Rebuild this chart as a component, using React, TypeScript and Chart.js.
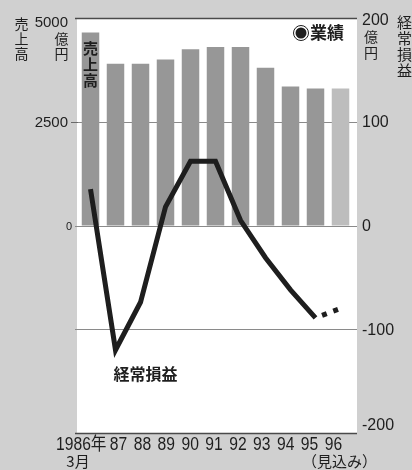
import React, { useEffect, useRef } from "react";
import { Chart, registerables } from "chart.js";

Chart.register(...registerables);

// Fiscal years (March year-end); 96 is a forecast
const years = ["1986", "87", "88", "89", "90", "91", "92", "93", "94", "95", "96"];
// 売上高 (億円)
const sales = [4650, 3900, 3900, 4000, 4250, 4300, 4300, 3800, 3350, 3300, 3300];
// 経常損益 (億円)
const profit = [35, -120, -74, 18, 62, 62, 5, -31, -62, -89, -80];
const salesTicks = [5000, 2500, 0];
const profitTicks = [200, 100, 0, -100, -200];
const firstYearSuffix = "年";
const firstYearSub = "3月";
const forecastNote = "（見込み）";

const BG = "#d0d0d0";
const BAR = "#979797";
const BAR_FORECAST = "#bdbdbd";
const INK = "#1e1e1e";
const JP = "'Noto Sans CJK JP', 'Noto Sans', sans-serif";
const NUM = "'Liberation Sans', Arial, 'Noto Sans CJK JP', sans-serif";

function verticalText(ctx: CanvasRenderingContext2D, text: string, cx: number, top: number, step: number) {
  ctx.textAlign = "center";
  ctx.textBaseline = "top";
  Array.from(text).forEach((ch, i) => ctx.fillText(ch, cx, top + i * step));
}

// tall, slightly condensed numerals for the year row
function narrowText(ctx: CanvasRenderingContext2D, text: string, x: number, y: number, align: CanvasTextAlign) {
  ctx.save();
  ctx.translate(x, y);
  ctx.scale(0.87, 1);
  ctx.textAlign = align;
  ctx.textBaseline = "middle";
  ctx.fillText(text, 0, 0);
  ctx.restore();
}

const paperPlugin = {
  id: "paper",
  beforeDraw(chart: any) {
    const { ctx, chartArea: a, width, height } = chart;
    ctx.save();
    ctx.fillStyle = BG;
    ctx.fillRect(0, 0, width, height);
    ctx.fillStyle = "#ffffff";
    ctx.fillRect(a.left - 1, a.top, a.right - a.left + 5, a.bottom - a.top);
    ctx.restore();
  },
  beforeDatasetsDraw(chart: any) {
    const { ctx, chartArea: a, scales } = chart;
    const yR = scales.yR;
    const yL = scales.yL;
    ctx.save();
    profitTicks.forEach((v) => {
      const y = Math.round(yR.getPixelForValue(v)) + 0.5;
      const edge = v === profitTicks[0] || v === profitTicks[profitTicks.length - 1];
      ctx.strokeStyle = edge ? "#4a4a4a" : "#8a8a8a";
      ctx.lineWidth = edge ? 1.5 : 1;
      ctx.beginPath();
      ctx.moveTo(a.left - 3, y);
      ctx.lineTo(a.right + 4, y);
      ctx.stroke();
    });
    // short tick on the sales axis
    const y25 = Math.round(yL.getPixelForValue(2500)) + 0.5;
    ctx.strokeStyle = "#6a6a6a";
    ctx.lineWidth = 1;
    ctx.beginPath();
    ctx.moveTo(a.left - 7, y25);
    ctx.lineTo(a.left, y25);
    ctx.stroke();
    ctx.restore();
  },
  afterDatasetsDraw(chart: any) {
    const { ctx, chartArea: a, scales } = chart;
    const x = scales.x;
    const yL = scales.yL;
    const yR = scales.yR;
    ctx.save();
    ctx.fillStyle = INK;

    // axis titles
    ctx.font = `14px ${JP}`;
    verticalText(ctx, "売上高", 21.5, 17, 15);
    verticalText(ctx, "億円", a.left - 16.5, 32, 15);
    verticalText(ctx, "億円", a.right + 18, 30, 16);
    ctx.font = `15px ${JP}`;
    verticalText(ctx, "経常損益", a.right + 51.5, 15, 15.8);

    // sales axis labels
    ctx.textBaseline = "middle";
    ctx.textAlign = "right";
    salesTicks.forEach((v) => {
      const y = Math.max(yL.getPixelForValue(v) + 1.5, a.top + 5);
      if (v === 0) {
        ctx.font = `11px ${NUM}`;
        ctx.fillText(String(v), a.left - 6, y);
      } else {
        ctx.font = `15px ${NUM}`;
        ctx.fillText(String(v), a.left - 10, y);
      }
    });

    // profit axis labels
    ctx.font = `16px ${NUM}`;
    ctx.textAlign = "left";
    profitTicks.forEach((v) => {
      const y = Math.min(Math.max(yR.getPixelForValue(v) + 1, a.top + 3), a.bottom - 7);
      ctx.fillText(String(v), a.right + 9, y);
    });

    // category labels (set slightly tighter than the bars)
    ctx.font = `18px ${NUM}`;
    const labelY = a.bottom + 12;
    const x0 = x.getPixelForValue(0);
    const x1 = x.getPixelForValue(1);
    years.forEach((yr, i) => {
      if (i === 0) {
        narrowText(ctx, yr + firstYearSuffix, x0 + 16, labelY, "right");
      } else {
        const px = x1 + 3 + (x.getPixelForValue(i) - x1) * 0.955;
        narrowText(ctx, yr, px, labelY, "center");
      }
    });
    ctx.font = `15px ${JP}`;
    ctx.textAlign = "center";
    ctx.textBaseline = "middle";
    ctx.fillText(firstYearSub, x0 - 12.5, a.bottom + 28);
    ctx.fillText(forecastNote, x.getPixelForValue(years.length - 1) - 1, a.bottom + 28);

    // series name inside the first bar
    ctx.font = `bold 15px ${JP}`;
    verticalText(ctx, "売上高", x0, yL.getPixelForValue(sales[0]) + 8, 16);

    // series name beside the profit line
    ctx.font = `bold 16px ${JP}`;
    ctx.textAlign = "center";
    ctx.textBaseline = "middle";
    ctx.fillText("経常損益", x1 + 30, yR.getPixelForValue(profit[1]) + 24);

    // legend
    const lx = a.right - 52;
    const ly = a.top + 15;
    ctx.strokeStyle = INK;
    ctx.lineWidth = 1;
    ctx.beginPath();
    ctx.arc(lx, ly, 7.5, 0, Math.PI * 2);
    ctx.stroke();
    ctx.beginPath();
    ctx.arc(lx, ly, 5.5, 0, Math.PI * 2);
    ctx.fill();
    ctx.font = `bold 17px ${JP}`;
    ctx.textAlign = "left";
    ctx.fillText("業績", lx + 9, ly);
    ctx.restore();
  },
};

export default function App() {
  const ref = useRef<HTMLCanvasElement | null>(null);

  useEffect(() => {
    if (!ref.current) return;
    const last = years.length - 1;
    const chart = new Chart(ref.current, {
      data: {
        labels: years,
        datasets: [
          {
            type: "line",
            label: "経常損益",
            data: profit,
            yAxisID: "yR",
            order: 0,
            borderColor: INK,
            borderWidth: 5,
            borderJoinStyle: "miter",
            borderCapStyle: "butt",
            pointRadius: 0,
            tension: 0,
            segment: {
              borderDash: (c: any) => (c.p1DataIndex === last ? [5, 7] : undefined),
              borderDashOffset: (c: any) => (c.p1DataIndex === last ? 5 : 0),
            },
          } as any,
          {
            type: "bar",
            label: "売上高",
            data: sales,
            yAxisID: "yL",
            order: 1,
            backgroundColor: sales.map((_, i) => (i === last ? BAR_FORECAST : BAR)),
            borderWidth: 0,
            categoryPercentage: 1,
            barPercentage: 0.7,
          } as any,
        ],
      },
      options: {
        responsive: false,
        animation: false,
        devicePixelRatio: 1,
        layout: { padding: { left: 78, right: 59, top: 18, bottom: 37 } },
        plugins: { legend: { display: false }, tooltip: { enabled: false } },
        scales: {
          x: { type: "category", display: false, offset: true },
          yL: { type: "linear", display: false, min: -5000, max: 5000 },
          yR: { type: "linear", display: false, min: -200, max: 200 },
        },
      },
      plugins: [paperPlugin],
    });
    return () => chart.destroy();
  }, []);

  return (
    <div style={{ position: "fixed", left: 0, top: 0, width: 412, height: 470, background: BG }}>
      <canvas ref={ref} width={412} height={470} style={{ display: "block" }} />
    </div>
  );
}
